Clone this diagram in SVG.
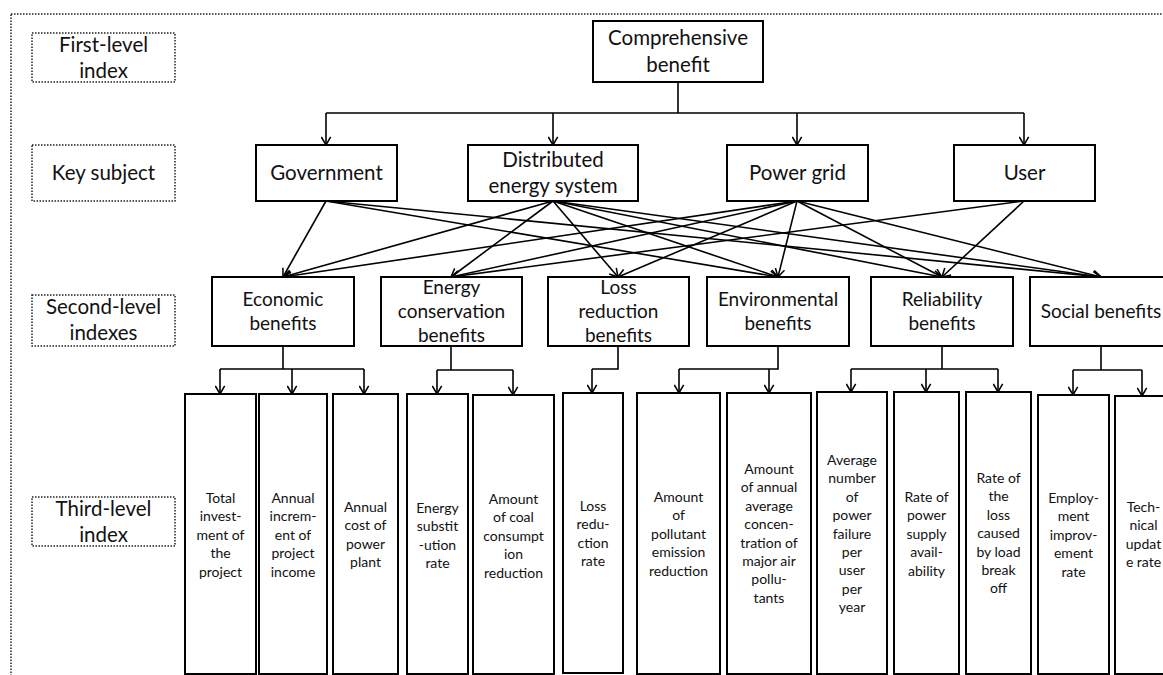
<svg xmlns="http://www.w3.org/2000/svg" width="1163" height="675" viewBox="0 0 1163 675">
<style>
.bg{fill:#fff}
.frame{fill:none;stroke:#222;stroke-width:1.5;stroke-dasharray:1.5 1.5}
.lbl{fill:#fff;stroke:#222;stroke-width:1.5;stroke-dasharray:1.5 1.5}
.box{fill:#fff;stroke:#000;stroke-width:2}
.c{fill:none;stroke:#000;stroke-width:1.6}
.a{fill:none;stroke:#000;stroke-width:1.6;marker-end:url(#arr)}
text{font-family:Lato,"Liberation Sans",sans-serif;fill:#111;text-anchor:middle}
.t1{font-size:20.5px}
.t2{font-size:19px}
.t3{font-size:14px}
</style>
<defs>
<marker id="arr" viewBox="0 0 10 12" refX="9.5" refY="6" markerWidth="9" markerHeight="11" markerUnits="userSpaceOnUse" orient="auto">
<path d="M0.5,0.8 L9.5,6 L0.5,11.2" fill="none" stroke="#000" stroke-width="1.7"/>
</marker>
</defs>
<rect class="bg" x="0" y="0" width="1163" height="675"/>
<rect class="frame" x="11" y="14" width="1170" height="700"/>

<g id="label-first"><rect class="lbl" x="32" y="33" width="143" height="49"/><text class="t1" x="103.5" y="52">First-level</text><text class="t1" x="103.5" y="78">index</text></g>
<g id="label-key"><rect class="lbl" x="32" y="145" width="143" height="56"/><text class="t1" x="103.5" y="180">Key subject</text></g>
<g id="label-second"><rect class="lbl" x="32" y="295" width="143" height="51"/><text class="t1" x="103.5" y="314">Second-level</text><text class="t1" x="103.5" y="340">indexes</text></g>
<g id="label-third"><rect class="lbl" x="32" y="497" width="143" height="49"/><text class="t1" x="103.5" y="516">Third-level</text><text class="t1" x="103.5" y="542">index</text></g>

<g id="connectors">
<path class="c" d="M678,82 V113 M326,113 H1024"/>
<line class="a" x1="326" y1="113" x2="326" y2="145"/>
<line class="a" x1="553" y1="113" x2="553" y2="145"/>
<line class="a" x1="797" y1="113" x2="797" y2="145"/>
<line class="a" x1="1024" y1="113" x2="1024" y2="145"/>

<line class="a" x1="326" y1="201" x2="283" y2="277"/>
<line class="a" x1="326" y1="201" x2="778" y2="277"/>
<line class="a" x1="326" y1="201" x2="1101" y2="277"/>

<line class="a" x1="553" y1="201" x2="283" y2="277"/>
<line class="a" x1="553" y1="201" x2="451" y2="277"/>
<line class="a" x1="553" y1="201" x2="618" y2="277"/>
<line class="a" x1="553" y1="201" x2="778" y2="277"/>
<line class="a" x1="553" y1="201" x2="942" y2="277"/>
<line class="a" x1="553" y1="201" x2="1101" y2="277"/>

<line class="a" x1="797" y1="201" x2="283" y2="277"/>
<line class="a" x1="797" y1="201" x2="451" y2="277"/>
<line class="a" x1="797" y1="201" x2="618" y2="277"/>
<line class="a" x1="797" y1="201" x2="778" y2="277"/>
<line class="a" x1="797" y1="201" x2="942" y2="277"/>
<line class="a" x1="797" y1="201" x2="1101" y2="277"/>

<line class="a" x1="1024" y1="201" x2="451" y2="277"/>
<line class="a" x1="1024" y1="201" x2="942" y2="277"/>

<path class="c" d="M283,346 V369 M220,369 H364"/>
<line class="a" x1="220" y1="369" x2="220" y2="394"/>
<line class="a" x1="292" y1="369" x2="292" y2="394"/>
<line class="a" x1="364" y1="369" x2="364" y2="394"/>
<path class="c" d="M451,346 V370 M437,370 H513"/>
<line class="a" x1="437" y1="370" x2="437" y2="394"/>
<line class="a" x1="513" y1="370" x2="513" y2="395"/>
<path class="c" d="M618,346 V369 H592"/>
<line class="a" x1="592" y1="369" x2="592" y2="393"/>
<path class="c" d="M778,346 V369 H679"/>
<line class="a" x1="679" y1="369" x2="679" y2="393"/>
<line class="a" x1="769" y1="369" x2="769" y2="393"/>
<path class="c" d="M942,346 V369 M851,369 H998"/>
<line class="a" x1="851" y1="369" x2="851" y2="392"/>
<line class="a" x1="926" y1="369" x2="926" y2="392"/>
<line class="a" x1="998" y1="369" x2="998" y2="392"/>
<path class="c" d="M1101,346 V370 M1073,370 H1142"/>
<line class="a" x1="1073" y1="370" x2="1073" y2="395"/>
<line class="a" x1="1142" y1="370" x2="1142" y2="396"/>
</g>

<g id="n-comprehensive"><rect class="box" x="593" y="21" width="170" height="61"/><text class="t1" x="678" y="45">Comprehensive</text><text class="t1" x="678" y="72">benefit</text></g>

<g id="n-government"><rect class="box" x="256" y="145" width="141" height="56"/><text class="t1" x="326.5" y="180">Government</text></g>
<g id="n-des"><rect class="box" x="468" y="145" width="170" height="56"/><text class="t1" x="553" y="167">Distributed</text><text class="t1" x="553" y="193">energy system</text></g>
<g id="n-grid"><rect class="box" x="727" y="145" width="141" height="56"/><text class="t1" x="797.5" y="180">Power grid</text></g>
<g id="n-user"><rect class="box" x="954" y="145" width="141" height="56"/><text class="t1" x="1024.5" y="180">User</text></g>

<g id="n-economic"><rect class="box" x="212" y="277" width="142" height="69"/><text class="t2" x="283" y="306">Economic</text><text class="t2" x="283" y="330">benefits</text></g>
<g id="n-energycons"><rect class="box" x="381" y="277" width="141" height="69"/><text class="t2" x="451.5" y="294">Energy</text><text class="t2" x="451.5" y="318">conservation</text><text class="t2" x="451.5" y="342">benefits</text></g>
<g id="n-loss"><rect class="box" x="548" y="277" width="141" height="69"/><text class="t2" x="618.5" y="294">Loss</text><text class="t2" x="618.5" y="318">reduction</text><text class="t2" x="618.5" y="342">benefits</text></g>
<g id="n-env"><rect class="box" x="707" y="277" width="142" height="69"/><text class="t2" x="778" y="306">Environmental</text><text class="t2" x="778" y="330">benefits</text></g>
<g id="n-rel"><rect class="box" x="871" y="277" width="142" height="69"/><text class="t2" x="942" y="306">Reliability</text><text class="t2" x="942" y="330">benefits</text></g>
<g id="n-social"><rect class="box" x="1030" y="277" width="142" height="69"/><text class="t2" x="1101" y="318">Social benefits</text></g>

<g id="n-t1"><rect class="box" x="185" y="394" width="71" height="280"/><text class="t3" x="220.5" y="503">Total<tspan x="220.5" dy="18.4">invest-</tspan><tspan x="220.5" dy="18.4">ment of</tspan><tspan x="220.5" dy="18.4">the</tspan><tspan x="220.5" dy="18.4">project</tspan></text></g>
<g id="n-t2"><rect class="box" x="259" y="394" width="68" height="280"/><text class="t3" x="293" y="503">Annual<tspan x="293" dy="18.4">increm-</tspan><tspan x="293" dy="18.4">ent of</tspan><tspan x="293" dy="18.4">project</tspan><tspan x="293" dy="18.4">income</tspan></text></g>
<g id="n-t3"><rect class="box" x="333" y="394" width="65" height="280"/><text class="t3" x="365.5" y="512">Annual<tspan x="365.5" dy="18.4">cost of</tspan><tspan x="365.5" dy="18.4">power</tspan><tspan x="365.5" dy="18.4">plant</tspan></text></g>
<g id="n-t4"><rect class="box" x="407" y="394" width="61" height="280"/><text class="t3" x="437.5" y="513">Energy<tspan x="437.5" dy="18.4">substit</tspan><tspan x="437.5" dy="18.4">-ution</tspan><tspan x="437.5" dy="18.4">rate</tspan></text></g>
<g id="n-t5"><rect class="box" x="473" y="395" width="81" height="279"/><text class="t3" x="513.5" y="504">Amount<tspan x="513.5" dy="18.4">of coal</tspan><tspan x="513.5" dy="18.4">consumpt</tspan><tspan x="513.5" dy="18.4">ion</tspan><tspan x="513.5" dy="18.4">reduction</tspan></text></g>
<g id="n-t6"><rect class="box" x="563" y="393" width="60" height="280"/><text class="t3" x="593" y="511">Loss<tspan x="593" dy="18.4">redu-</tspan><tspan x="593" dy="18.4">ction</tspan><tspan x="593" dy="18.4">rate</tspan></text></g>
<g id="n-t7"><rect class="box" x="637" y="393" width="83" height="281"/><text class="t3" x="678.5" y="502">Amount<tspan x="678.5" dy="18.4">of</tspan><tspan x="678.5" dy="18.4">pollutant</tspan><tspan x="678.5" dy="18.4">emission</tspan><tspan x="678.5" dy="18.4">reduction</tspan></text></g>
<g id="n-t8"><rect class="box" x="727" y="393" width="84" height="281"/><text class="t3" x="769" y="474">Amount<tspan x="769" dy="18.4">of annual</tspan><tspan x="769" dy="18.4">average</tspan><tspan x="769" dy="18.4">concen-</tspan><tspan x="769" dy="18.4">tration of</tspan><tspan x="769" dy="18.4">major air</tspan><tspan x="769" dy="18.4">pollu-</tspan><tspan x="769" dy="18.4">tants</tspan></text></g>
<g id="n-t9"><rect class="box" x="817" y="392" width="70" height="282"/><text class="t3" x="852" y="465">Average<tspan x="852" dy="18.4">number</tspan><tspan x="852" dy="18.4">of</tspan><tspan x="852" dy="18.4">power</tspan><tspan x="852" dy="18.4">failure</tspan><tspan x="852" dy="18.4">per</tspan><tspan x="852" dy="18.4">user</tspan><tspan x="852" dy="18.4">per</tspan><tspan x="852" dy="18.4">year</tspan></text></g>
<g id="n-t10"><rect class="box" x="894" y="392" width="65" height="282"/><text class="t3" x="926.5" y="502">Rate of<tspan x="926.5" dy="18.4">power</tspan><tspan x="926.5" dy="18.4">supply</tspan><tspan x="926.5" dy="18.4">avail-</tspan><tspan x="926.5" dy="18.4">ability</tspan></text></g>
<g id="n-t11"><rect class="box" x="966" y="392" width="65" height="282"/><text class="t3" x="998.5" y="483">Rate of<tspan x="998.5" dy="18.4">the</tspan><tspan x="998.5" dy="18.4">loss</tspan><tspan x="998.5" dy="18.4">caused</tspan><tspan x="998.5" dy="18.4">by load</tspan><tspan x="998.5" dy="18.4">break</tspan><tspan x="998.5" dy="18.4">off</tspan></text></g>
<g id="n-t12"><rect class="box" x="1038" y="395" width="71" height="279"/><text class="t3" x="1073.5" y="503">Employ-<tspan x="1073.5" dy="18.4">ment</tspan><tspan x="1073.5" dy="18.4">improv-</tspan><tspan x="1073.5" dy="18.4">ement</tspan><tspan x="1073.5" dy="18.4">rate</tspan></text></g>
<g id="n-t13"><rect class="box" x="1115" y="396" width="57" height="278"/><text class="t3" x="1143.5" y="512">Tech-<tspan x="1143.5" dy="18.4">nical</tspan><tspan x="1143.5" dy="18.4">updat</tspan><tspan x="1143.5" dy="18.4">e rate</tspan></text></g>
</svg>
